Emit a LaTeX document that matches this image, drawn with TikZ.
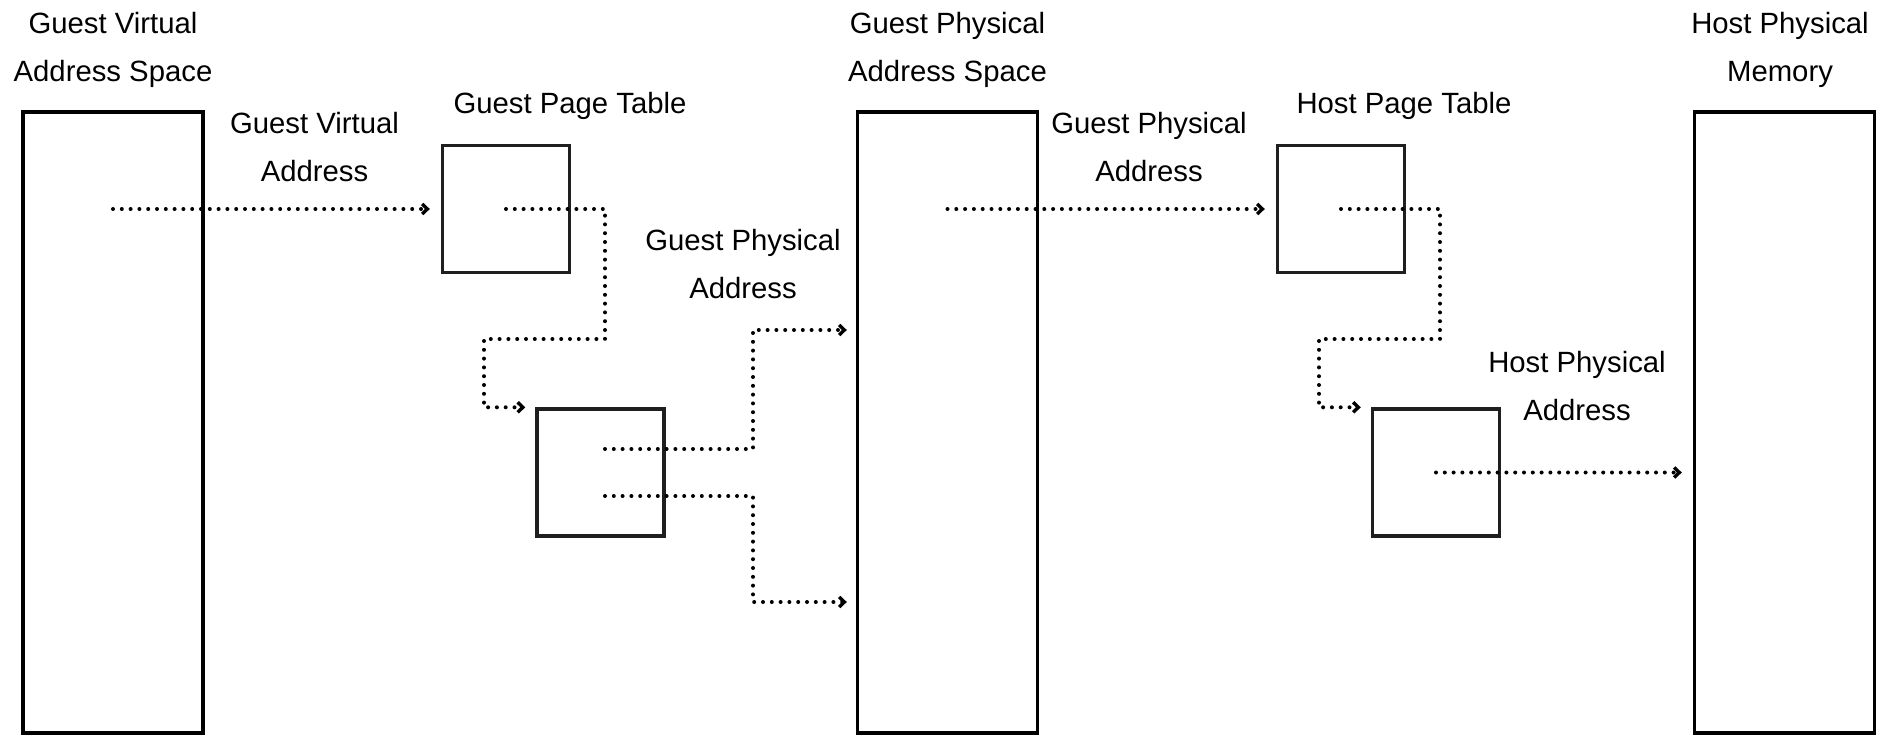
\documentclass[tikz,border=0pt]{standalone}
\usepackage{fontspec}
\setmainfont{Liberation Sans}
\usetikzlibrary{arrows.meta,calc}
\begin{document}
\begin{tikzpicture}[x=0.5pt,y=-0.5pt,
  bigbox/.style={draw=black,line width=1.7pt,inner sep=0pt,minimum width=90pt,minimum height=310.5pt},
  tblbox/.style={draw=black!88,line width=1.7pt,inner sep=0pt,minimum size=63.5pt},
  lbl/.style={font=\fontsize{14.65}{24}\selectfont,align=center,inner sep=0pt,anchor=base},
  link/.style={line width=2pt,line cap=round,dash pattern=on 0pt off 4.4pt},
  conn/.style={link,-{Straight Barb[length=2.6pt,width=5pt,line width=1.7pt]}}
]
\useasboundingbox (0,0) rectangle (1881,735);

% boxes
\node[bigbox] (gvas) at (113,422.5) {};
\node[bigbox] (gpas) at (947.5,422.5) {};
\node[bigbox] (hpm) at (1784.5,422.5) {};
\node[tblbox] (gpt1) at (506,209) {};
\node[tblbox] (gpt2) at (600.5,472.5) {};
\node[tblbox] (hpt1) at (1341,209) {};
\node[tblbox] (hpt2) at (1436,472.5) {};

% titles and labels (anchor base = baseline of the last line)
\node[lbl] (t1) at (113,81) {Guest Virtual\\Address Space};
\node[lbl] (t2) at (947.5,81) {Guest Physical\\Address Space};
\node[lbl] (t3) at (1780,81) {Host Physical\\Memory};
\node[lbl] (l1) at (314.5,181) {Guest Virtual\\Address};
\node[lbl] (l2) at (743,298.5) {Guest Physical\\Address};
\node[lbl] (l3) at (1149,181) {Guest Physical\\Address};
\node[lbl] (l4) at (1577,420) {Host Physical\\Address};
\node[lbl] (p1) at (570,113) {Guest Page Table};
\node[lbl] (p2) at (1404,113) {Host Page Table};

% end points of connectors
\coordinate (e1) at ([xshift=-5.5pt]gpt1.west);
\coordinate (e2) at ([xshift=-5pt]gpt2.north west);
\coordinate (e3) at ($(gpas.west)+(-9,-92.5)$);
\coordinate (e4) at ($(gpas.west)+(-9,179.5)$);
\coordinate (e5) at ([xshift=-5.5pt]hpt1.west);
\coordinate (e6) at ([xshift=-5pt]hpt2.north west);
\coordinate (e7) at ($(hpm.west)+(-11,50)$);

% connectors
\draw[conn] (gvas.center |- gpt1.center) -- (e1);
\draw[conn] (gpt1.center) -- ++(99,0) -- ++(0,130) -- ++(-121,0) |- (e2);
\draw[conn] ([shift={(4.5,-23.5)}]gpt2.center) -- ++(148,0) |- (e3);
\draw[conn] ([shift={(4.5,23.5)}]gpt2.center) -- ++(148,0) |- (e4);
\draw[conn] (gpas.center |- hpt1.center) -- (e5);
\draw[conn] (hpt1.center) -- ++(99,0) -- ++(0,130) -- ++(-121,0) |- (e6);
\draw[conn] (hpt2.center) -- (e7 |- hpt2.center);
\end{tikzpicture}
\end{document}
